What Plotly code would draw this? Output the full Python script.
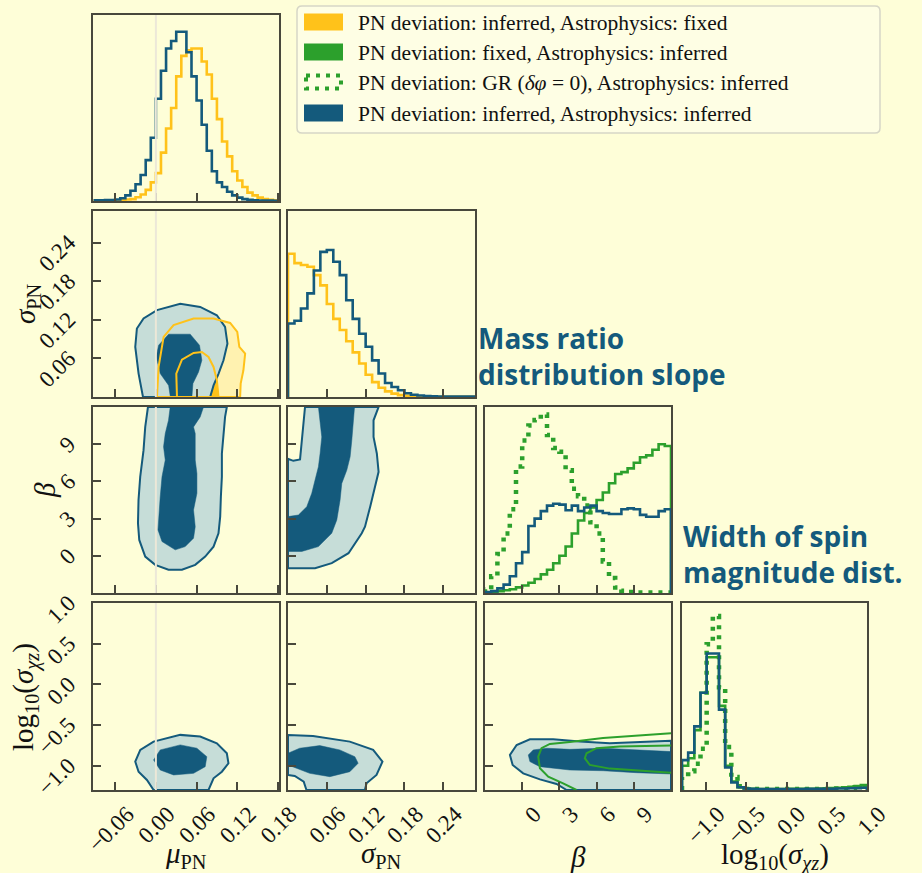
import numpy as np
import plotly.graph_objects as go

# ---------------- data ----------------
# 1-D marginal histograms (heights normalised to panel height)
mu_edges = np.linspace(-0.09, 0.18, 37)
mu_hist_blue = [0.004, 0.004, 0.005, 0.005, 0.008, 0.015, 0.03, 0.055, 0.09, 0.14, 0.22, 0.34,
                0.55, 0.70, 0.82, 0.86, 0.91, 0.91, 0.80, 0.67, 0.54, 0.41, 0.27, 0.16,
                0.10, 0.075, 0.05, 0.03, 0.018, 0.01, 0.006, 0.004, 0.003, 0.002, 0.002, 0.001]
mu_hist_gold = [0.002, 0.002, 0.003, 0.003, 0.004, 0.006, 0.008, 0.01, 0.02, 0.035, 0.06, 0.10,
                0.15, 0.26, 0.39, 0.50, 0.67, 0.78, 0.81, 0.82, 0.82, 0.75, 0.68, 0.55,
                0.44, 0.32, 0.24, 0.16, 0.11, 0.075, 0.045, 0.03, 0.018, 0.01, 0.006, 0.004]

sig_edges = np.linspace(0.0, 0.29, 30)
sig_hist_blue = [0.395, 0.41, 0.476, 0.557, 0.68, 0.78, 0.79, 0.727, 0.655, 0.52, 0.42, 0.34,
                 0.27, 0.197, 0.126, 0.075, 0.054, 0.036, 0.02, 0.012, 0.008, 0.005, 0.004,
                 0.003, 0.003, 0.002, 0.002, 0.002, 0.002]
sig_hist_gold = [0.77, 0.72, 0.71, 0.70, 0.655, 0.60, 0.50, 0.42, 0.36, 0.30, 0.24, 0.18,
                 0.12, 0.08, 0.05, 0.03, 0.018, 0.01, 0.006, 0.004, 0.003, 0.002, 0.002,
                 0.001, 0.001, 0.001, 0.001, 0.001, 0.001]

beta_edges = np.linspace(-3.0, 12.0, 31)
beta_hist_blue = [0.005, 0.01, 0.025, 0.045, 0.09, 0.16, 0.22, 0.36, 0.40, 0.44, 0.47, 0.48,
                  0.475, 0.445, 0.47, 0.44, 0.46, 0.47, 0.44, 0.43, 0.425, 0.425, 0.45, 0.455,
                  0.45, 0.42, 0.41, 0.41, 0.44, 0.45]
beta_hist_green = [0.003, 0.005, 0.01, 0.015, 0.02, 0.03, 0.04, 0.055, 0.075, 0.10, 0.125, 0.16,
                   0.20, 0.25, 0.32, 0.39, 0.43, 0.46, 0.50, 0.54, 0.59, 0.64, 0.65, 0.67,
                   0.70, 0.73, 0.74, 0.77, 0.80, 0.79]
beta_hist_gr = [0.02, 0.09, 0.21, 0.32, 0.45, 0.68, 0.82, 0.90, 0.93, 0.96, 0.85, 0.78,
                0.76, 0.66, 0.56, 0.52, 0.47, 0.38, 0.32, 0.17, 0.08, 0.03, 0.012, 0.006,
                0.003, 0.003, 0.003, 0.003, 0.003, 0.003]

lsig_edges = np.linspace(-1.3, 1.0, 31)
lsig_hist_blue = [0.16, 0.20, 0.34, 0.52, 0.73, 0.73, 0.43, 0.12, 0.04, 0.015, 0.008, 0.006,
                  0.005, 0.005, 0.005, 0.005, 0.005, 0.005, 0.005, 0.005, 0.006, 0.006, 0.006,
                  0.007, 0.007, 0.008, 0.008, 0.009, 0.01, 0.012]
lsig_hist_green = [0.13, 0.17, 0.32, 0.52, 0.71, 0.71, 0.45, 0.13, 0.045, 0.015, 0.008, 0.006,
                   0.005, 0.005, 0.005, 0.005, 0.005, 0.006, 0.006, 0.006, 0.007, 0.007, 0.008,
                   0.009, 0.01, 0.012, 0.014, 0.017, 0.021, 0.026]
lsig_hist_gr = [0.07, 0.10, 0.14, 0.22, 0.78, 0.93, 0.55, 0.23, 0.07, 0.02, 0.006, 0.005,
                0.005, 0.005, 0.005, 0.005, 0.005, 0.005, 0.005, 0.005, 0.005, 0.006, 0.006,
                0.006, 0.007, 0.008, 0.01, 0.012, 0.015, 0.02]

# 2-D credible contours (x list, y list)
# sigma_PN vs mu_PN
c21_blue_out_x = [-0.019, -0.0255, -0.0304, -0.028, -0.0182, 0.0016, 0.0359, 0.0653, 0.0899, 0.102, 0.1055, 0.0997, 0.0923, 0.085, 0.080]
c21_blue_out_y = [0.0, 0.0364, 0.0778, 0.1064, 0.122, 0.135, 0.145, 0.14, 0.127, 0.109, 0.083, 0.057, 0.036, 0.018, 0.0]
c21_blue_in_x = [0.0213, 0.0188, 0.0064, 0.0005, 0.004, 0.0188, 0.0506, 0.0643, 0.0678, 0.0629, 0.0546, 0.0531]
c21_blue_in_y = [0.0, 0.018, 0.0364, 0.0622, 0.0804, 0.0976, 0.0976, 0.0804, 0.057, 0.039, 0.0208, 0.0]
c21_gold_out_x = [0.0016, 0.004, 0.0114, 0.0261, 0.0556, 0.085, 0.1095, 0.120, 0.123, 0.1316, 0.129, 0.125, 0.1242]
c21_gold_out_y = [0.0, 0.0467, 0.0934, 0.1116, 0.122, 0.122, 0.115, 0.101, 0.0778, 0.0675, 0.0415, 0.0208, 0.0]
c21_gold_in_x = [0.0311, 0.0301, 0.0384, 0.0556, 0.0678, 0.0776, 0.085, 0.0899, 0.0923]
c21_gold_in_y = [0.0, 0.0364, 0.058, 0.0685, 0.07, 0.0622, 0.0467, 0.026, 0.0]

# beta vs mu_PN
c31_blue_out_x = [-0.0117, -0.0157, -0.0182, -0.0231, -0.0256, -0.0264, -0.0245, -0.0157, -0.001, 0.0186, 0.0384, 0.058, 0.0727, 0.085, 0.0923, 0.0948, 0.0958, 0.0973, 0.0973, 0.0997, 0.102, 0.1046]
c31_blue_out_y = [12.0, 10.39, 8.52, 6.37, 4.5, 2.62, 1.28, -0.06, -0.73, -1.13, -1.13, -0.73, -0.06, 0.74, 1.82, 3.16, 4.76, 6.37, 8.25, 9.86, 11.2, 12.0]
c31_blue_in_x = [0.0211, 0.0186, 0.0138, 0.0113, 0.0138, 0.009, 0.0064, 0.004, 0.0031, 0.009, 0.0285, 0.0432, 0.0555, 0.058, 0.0555, 0.0605, 0.0605, 0.058, 0.058, 0.058, 0.0555, 0.0653, 0.0702]
c31_blue_in_y = [12.0, 10.93, 9.86, 8.79, 7.72, 6.37, 4.76, 3.16, 2.09, 1.15, 0.48, 0.74, 1.42, 2.35, 3.7, 5.04, 6.64, 7.72, 8.79, 9.86, 10.39, 11.2, 12.0]

# beta vs sigma_PN
c32_blue_out_x = [0.0263, 0.0238, 0.0212, 0.0186, 0.0083, 0.0, 0.0, 0.0418, 0.0676, 0.0935, 0.114, 0.119, 0.127, 0.1347, 0.14, 0.1373, 0.1322, 0.1322, 0.14]
c32_blue_out_y = [12.0, 10.39, 9.05, 7.77, 7.66, 7.82, -1.0, -1.0, -0.59, 0.21, 1.82, 2.35, 3.96, 5.57, 6.77, 8.25, 9.59, 10.93, 12.0]
c32_blue_in_x = [0.047, 0.0496, 0.0522, 0.0496, 0.047, 0.0418, 0.0367, 0.029, 0.0161, 0.0, 0.0, 0.0212, 0.047, 0.0676, 0.0754, 0.0805, 0.0831, 0.0909, 0.096, 0.0986, 0.1012, 0.1028]
c32_blue_in_y = [12.0, 10.93, 9.59, 8.25, 7.18, 6.11, 5.04, 3.96, 3.29, 3.16, 0.35, 0.35, 0.74, 1.82, 2.89, 4.5, 5.84, 6.91, 7.98, 9.32, 10.93, 12.0]

# log10(sigma_chi) vs mu_PN
c41_blue_out_x = [-0.0034, -0.0132, -0.0255, -0.0304, -0.023, -0.0034, 0.0359, 0.0653, 0.0899, 0.1046, 0.107, 0.0973, 0.085, 0.0776]
c41_blue_out_y = [-1.3, -1.177, -1.075, -0.951, -0.807, -0.705, -0.622, -0.643, -0.725, -0.848, -0.971, -1.075, -1.156, -1.3]
c41_blue_in_x = [-0.0034, 0.0064, 0.0359, 0.0604, 0.0751, 0.0727, 0.0555, 0.0261, 0.0064]
c41_blue_in_y = [-0.93, -0.807, -0.745, -0.786, -0.89, -1.013, -1.095, -1.115, -1.054]

# log10(sigma_chi) vs sigma_PN
c42_blue_out_x = [0.0, 0.0387, 0.0955, 0.1316, 0.146, 0.1368, 0.1214, 0.1188, 0.0285, 0.0243, 0.0104, 0.0]
c42_blue_out_y = [-0.622, -0.635, -0.705, -0.807, -0.951, -1.115, -1.218, -1.3, -1.3, -1.198, -1.128, -1.115]
c42_blue_in_x = [0.0, 0.0181, 0.0491, 0.08, 0.1033, 0.1084, 0.0955, 0.0646, 0.0336, 0.0077, 0.0]
c42_blue_in_y = [-0.848, -0.786, -0.754, -0.807, -0.89, -0.971, -1.075, -1.136, -1.095, -1.013, -0.992]

# log10(sigma_chi) vs beta
c43_blue_out_x = [12.0, 9.75, 7.06, 4.65, 2.5, 0.62, -0.45, -0.99, -0.77, 0.08, 1.43, 2.77, 3.58, 12.0]
c43_blue_out_y = [-0.693, -0.705, -0.725, -0.705, -0.676, -0.676, -0.746, -0.869, -0.992, -1.095, -1.169, -1.226, -1.3, -1.3]
c43_blue_in_x = [12.0, 9.75, 6.52, 3.84, 1.97, 0.89, 0.49, 0.62, 1.43, 3.84, 6.52, 9.21, 12.0]
c43_blue_in_y = [-0.828, -0.807, -0.786, -0.8, -0.786, -0.807, -0.869, -0.951, -1.013, -1.054, -1.063, -1.087, -1.103]
c43_green_out_x = [12.0, 9.21, 6.52, 3.84, 2.23, 1.56, 1.29, 1.43, 2.1, 3.3, 4.38]
c43_green_out_y = [-0.602, -0.627, -0.66, -0.709, -0.734, -0.786, -0.89, -1.033, -1.136, -1.218, -1.3]
c43_green_in_x = [12.0, 7.87, 5.99, 5.19, 5.05, 5.45, 7.06, 9.21, 12.0]
c43_green_in_y = [-0.754, -0.766, -0.786, -0.848, -0.909, -0.992, -1.037, -1.062, -1.087]

# axes
var_ranges = [[-0.0927, 0.1815], [0.0, 0.289], [-3.0, 12.0], [-1.3, 1.0]]
tick_vals = [[-0.06, 0.0, 0.06, 0.12, 0.18], [0.06, 0.12, 0.18, 0.24], [0, 3, 6, 9], [-1.0, -0.5, 0.0, 0.5, 1.0]]
tick_text = [["\u22120.06", "0.00", "0.06", "0.12", "0.18"], ["0.06", "0.12", "0.18", "0.24"],
             ["0", "3", "6", "9"], ["\u22121.0", "\u22120.5", "0.0", "0.5", "1.0"]]
x_titles = ["<i>μ</i><sub>PN</sub>", "<i>σ</i><sub>PN</sub>", "<i>β</i>", "log<sub>10</sub>(<i>σ<sub>χz</sub></i>)"]
legend_labels = ["PN deviation: inferred, Astrophysics: fixed",
                 "PN deviation: fixed, Astrophysics: inferred",
                 "PN deviation: GR (<i>δφ</i> = 0), Astrophysics: inferred",
                 "PN deviation: inferred, Astrophysics: inferred"]

# ---------------- style ----------------
W, H = 922, 873
BG = "#fefed8"
BLUE = "#145a7c"
LBLUE = "#c6ddd8"
GOLD = "#ffc21a"
LGOLD = "#fff2b0"
GREEN = "#2ca02c"
AXC = "#48483c"
VLINE = "#ece8d8"
SERIF = "Liberation Serif"
col_px = [(93, 279), (288, 475), (485, 671), (682, 867)]
row_px = [(15, 201), (211, 397), (407, 593), (603, 790)]

fig = go.Figure()
panel_id = {}
k = 0
for r in range(4):
    for c in range(r + 1):
        k += 1
        panel_id[(r, c)] = k


def ax(r, c):
    k = panel_id[(r, c)]
    return ("x" if k == 1 else f"x{k}"), ("y" if k == 1 else f"y{k}")


def step(edges, h, color, r, c, dash=None, width=2.6):
    xs = [edges[0]] + list(edges) + [edges[-1]]
    ys = [0] + list(h) + [h[-1], 0]
    xa, ya = ax(r, c)
    fig.add_trace(go.Scatter(x=xs, y=ys, mode="lines", line_shape="hv",
                             line=dict(color=color, width=width, dash=dash),
                             xaxis=xa, yaxis=ya, hoverinfo="skip", showlegend=False))


def region(xs, ys, r, c, fillcolor=None, linecolor=None, width=2.0):
    xa, ya = ax(r, c)
    xx = list(xs) + [xs[0]]
    yy = list(ys) + [ys[0]]
    fig.add_trace(go.Scatter(x=xx, y=yy, mode="lines",
                             fill="toself" if fillcolor else None,
                             fillcolor=fillcolor,
                             line=dict(color=linecolor or fillcolor, width=width if linecolor else 0.5),
                             xaxis=xa, yaxis=ya, hoverinfo="skip", showlegend=False))


def curve(xs, ys, r, c, color, width=2.0):
    xa, ya = ax(r, c)
    fig.add_trace(go.Scatter(x=xs, y=ys, mode="lines", line=dict(color=color, width=width),
                             xaxis=xa, yaxis=ya, hoverinfo="skip", showlegend=False))


DOT = "4px,6px"
# diagonal histograms
step(mu_edges, mu_hist_gold, GOLD, 0, 0)
step(mu_edges, mu_hist_blue, BLUE, 0, 0)
step(sig_edges, sig_hist_gold, GOLD, 1, 1)
step(sig_edges, sig_hist_blue, BLUE, 1, 1)
step(beta_edges, beta_hist_green, GREEN, 2, 2)
step(beta_edges, beta_hist_gr, GREEN, 2, 2, dash=DOT, width=4.5)
step(beta_edges, beta_hist_blue, BLUE, 2, 2)
step(lsig_edges, lsig_hist_green, GREEN, 3, 3)
step(lsig_edges, lsig_hist_gr, GREEN, 3, 3, dash=DOT, width=4.5)
step(lsig_edges, lsig_hist_blue, BLUE, 3, 3)

# 2-D panels
region(c21_gold_out_x, c21_gold_out_y, 1, 0, LGOLD)
region(c21_gold_in_x, c21_gold_in_y, 1, 0, GOLD)
region(c21_blue_out_x, c21_blue_out_y, 1, 0, LBLUE, BLUE)
region(c21_blue_in_x, c21_blue_in_y, 1, 0, BLUE)
region(c21_gold_out_x, c21_gold_out_y, 1, 0, None, GOLD)
region(c21_gold_in_x, c21_gold_in_y, 1, 0, None, GOLD)

region(c31_blue_out_x, c31_blue_out_y, 2, 0, LBLUE, BLUE)
region(c31_blue_in_x, c31_blue_in_y, 2, 0, BLUE)
region(c32_blue_out_x, c32_blue_out_y, 2, 1, LBLUE, BLUE)
region(c32_blue_in_x, c32_blue_in_y, 2, 1, BLUE)
region(c41_blue_out_x, c41_blue_out_y, 3, 0, LBLUE, BLUE)
region(c41_blue_in_x, c41_blue_in_y, 3, 0, BLUE)
region(c42_blue_out_x, c42_blue_out_y, 3, 1, LBLUE, BLUE)
region(c42_blue_in_x, c42_blue_in_y, 3, 1, BLUE)
region(c43_blue_out_x, c43_blue_out_y, 3, 2, LBLUE, BLUE)
region(c43_blue_in_x, c43_blue_in_y, 3, 2, BLUE)
curve(c43_green_out_x, c43_green_out_y, 3, 2, GREEN)
curve(c43_green_in_x, c43_green_in_y, 3, 2, GREEN)

# ---------------- layout ----------------
layout = dict(width=W, height=H, margin=dict(l=0, r=0, t=0, b=0, autoexpand=False),
              paper_bgcolor=BG, plot_bgcolor=BG, showlegend=False)
tickfont = dict(family=SERIF, size=23, color="#111111")
for (r, c), k in panel_id.items():
    xl, xr = col_px[c]
    yt, yb = row_px[r]
    xname = "xaxis" if k == 1 else f"xaxis{k}"
    yname = "yaxis" if k == 1 else f"yaxis{k}"
    ya = "y" if k == 1 else f"y{k}"
    xa = "x" if k == 1 else f"x{k}"
    common = dict(showgrid=False, zeroline=False, showline=True, mirror=True,
                  linecolor=AXC, linewidth=1.5, ticks="inside", ticklen=8,
                  tickwidth=1.5, tickcolor=AXC, tickfont=tickfont, fixedrange=True,
                  tickangle=-45, automargin=False)
    layout[xname] = dict(common, domain=[xl / W, xr / W], anchor=ya, range=var_ranges[c],
                         tickmode="array", tickvals=tick_vals[c], ticktext=tick_text[c],
                         showticklabels=(r == 3), ticklabelshift=12, ticklabelstandoff=0)
    if r == c:
        layout[yname] = dict(common, domain=[1 - yb / H, 1 - yt / H], anchor=xa, range=[0, 1],
                             ticks="", showticklabels=False)
    else:
        layout[yname] = dict(common, domain=[1 - yb / H, 1 - yt / H], anchor=xa,
                             range=var_ranges[r], tickmode="array", tickvals=tick_vals[r],
                             ticktext=tick_text[r], showticklabels=(c == 0),
                             ticklabelshift=-3, ticklabelstandoff=18)

shapes = []
for r in range(4):
    k = panel_id[(r, 0)]
    xa = "x" if k == 1 else f"x{k}"
    ya = "y" if k == 1 else f"y{k}"
    shapes.append(dict(type="line", xref=xa, yref=f"{ya} domain", x0=0, x1=0, y0=0, y1=1,
                       line=dict(color=VLINE, width=2), layer="above"))

# legend (drawn)
def px_x(v):
    return v / W


def px_y(v):
    return 1 - v / H


lx0, lx1, ly0, ly1, rad = 297, 880, 6, 133, 5
path = (f"M {px_x(lx0 + rad)},{px_y(ly0)} L {px_x(lx1 - rad)},{px_y(ly0)} "
        f"Q {px_x(lx1)},{px_y(ly0)} {px_x(lx1)},{px_y(ly0 + rad)} "
        f"L {px_x(lx1)},{px_y(ly1 - rad)} Q {px_x(lx1)},{px_y(ly1)} {px_x(lx1 - rad)},{px_y(ly1)} "
        f"L {px_x(lx0 + rad)},{px_y(ly1)} Q {px_x(lx0)},{px_y(ly1)} {px_x(lx0)},{px_y(ly1 - rad)} "
        f"L {px_x(lx0)},{px_y(ly0 + rad)} Q {px_x(lx0)},{px_y(ly0)} {px_x(lx0 + rad)},{px_y(ly0)} Z")
shapes.append(dict(type="path", xref="paper", yref="paper", path=path,
                   fillcolor="#fefee4", line=dict(color="#d6d6c6", width=1.5), layer="above"))
leg_y = [22, 52, 82, 113]
leg_style = [dict(fillcolor=GOLD, line=dict(width=0)),
             dict(fillcolor=GREEN, line=dict(width=0)),
             dict(fillcolor="rgba(0,0,0,0)", line=dict(color=GREEN, width=4, dash="4px,6px")),
             dict(fillcolor=BLUE, line=dict(width=0))]
annotations = []
for i, yc in enumerate(leg_y):
    inset = 2 if i == 2 else 0
    shapes.append(dict(type="rect", xref="paper", yref="paper",
                       x0=px_x(304 + inset), x1=px_x(343 - inset),
                       y0=px_y(yc - 8.5 + inset), y1=px_y(yc + 8.5 - inset), layer="above",
                       **leg_style[i]))
    annotations.append(dict(text=legend_labels[i], xref="paper", yref="paper",
                            x=px_x(356), y=px_y(yc + 1), xanchor="left", yanchor="middle",
                            showarrow=False, font=dict(family=SERIF, size=21.5, color="#111111")))

# axis titles
TSIZE = 29
x_title_pos = [(186, 855), (381, 855), (578, 857), (775, 856)]
for i, (xp, yp) in enumerate(x_title_pos):
    annotations.append(dict(text=x_titles[i], xref="paper", yref="paper", x=px_x(xp), y=px_y(yp),
                            xanchor="center", yanchor="middle", showarrow=False,
                            font=dict(family=SERIF, size=TSIZE, color="#111111")))
y_title_pos = [(27, 304, 1), (45, 490, 2), (25, 697, 3)]
for xp, yp, vi in y_title_pos:
    annotations.append(dict(text=x_titles[vi], xref="paper", yref="paper", x=px_x(xp), y=px_y(yp),
                            xanchor="center", yanchor="middle", showarrow=False, textangle=-90,
                            font=dict(family=SERIF, size=TSIZE, color="#111111")))

# panel annotations
annotations.append(dict(text="<b>Mass ratio<br>distribution slope</b>", xref="paper", yref="paper",
                        x=px_x(476), y=px_y(317), xanchor="left", yanchor="top", align="left",
                        showarrow=False, font=dict(family="Open Sans", size=28, color=BLUE)))
annotations.append(dict(text="<b>Width of spin<br>magnitude dist.</b>", xref="paper", yref="paper",
                        x=px_x(681), y=px_y(515), xanchor="left", yanchor="top", align="left",
                        showarrow=False, font=dict(family="Open Sans", size=28, color=BLUE)))

layout["shapes"] = shapes
layout["annotations"] = annotations
fig.update_layout(**layout)
fig.write_html("out.html")
